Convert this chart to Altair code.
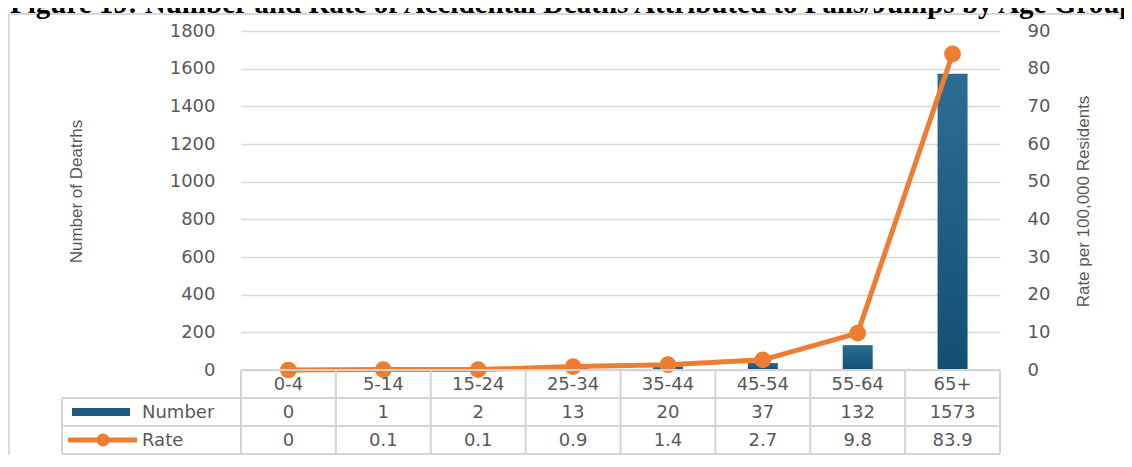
import altair as alt
import pandas as pd

# ---------------- data ----------------
ages = ["0-4", "5-14", "15-24", "25-34", "35-44", "45-54", "55-64", "65+"]
numbers = [0, 1, 2, 13, 20, 37, 132, 1573]
rates = [0, 0.1, 0.1, 0.9, 1.4, 2.7, 9.8, 83.9]
left_ticks = [0, 200, 400, 600, 800, 1000, 1200, 1400, 1600, 1800]
right_ticks = [0, 10, 20, 30, 40, 50, 60, 70, 80, 90]
title_text = "Figure 19: Number and Rate of Accidental Deaths Attributed to Falls/Jumps by Age Group"
left_title = "Number of Deatrhs"
right_title = "Rate per 100,000 Residents"
legend_number = "Number"
legend_rate = "Rate"

df = pd.DataFrame({
    "age": ages,
    "number": numbers,
    "rate": rates,
    "num_label": [str(n) for n in numbers],
    "rate_label": [f"{r:g}" for r in rates],
})
one = pd.DataFrame({"k": [0]})

# ---------------- style ----------------
W, H = 759, 339
ORANGE = "#ed7d31"
GRID = "#d9d9d9"
TABLE = "#d4d4d4"
TEXT = "#595959"
LABEL_FONT = "DejaVu Sans"
TITLE_FONT = "Liberation Sans"

ROW_CAT = (339, 367)
ROW_NUM = (367, 395)
ROW_RATE = (395, 423)
LEG_LEFT = -179

xscale = alt.Scale(domain=ages, paddingInner=0, paddingOuter=0)
X = alt.X("age:N", scale=xscale, axis=None, sort=ages)

blue_grad = alt.Gradient(
    gradient="linear", x1=0, x2=0, y1=0, y2=1,
    stops=[alt.GradientStop(color="#2d6d94", offset=0),
           alt.GradientStop(color="#134f73", offset=1)],
)

bars = alt.Chart(df).mark_bar(size=30, color=blue_grad).encode(
    x=X,
    y=alt.Y(
        "number:Q",
        scale=alt.Scale(domain=[0, 1800], nice=False),
        axis=alt.Axis(
            orient="left", values=left_ticks, title=left_title, format="d",
            grid=True, gridColor=GRID, gridWidth=1.5,
            domain=False, ticks=False, labelPadding=26,
            labelFont=LABEL_FONT, labelFontSize=18, labelColor=TEXT,
            titleFont=TITLE_FONT, titleFontSize=17, titleFontWeight="normal",
            titleColor=TEXT, titleAngle=270, titleX=-165, titleY=160,
            titleAlign="center", titleBaseline="middle",
        ),
    ),
)

line = alt.Chart(df).mark_line(
    color=ORANGE, strokeWidth=5,
    point=alt.OverlayMarkDef(filled=True, size=280, color=ORANGE, opacity=1),
).encode(
    x=X,
    y=alt.Y(
        "rate:Q",
        scale=alt.Scale(domain=[0, 90], nice=False),
        axis=alt.Axis(
            orient="right", values=right_ticks, title=right_title, format="d",
            grid=False, domain=False, ticks=False, labelPadding=27,
            labelFont=LABEL_FONT, labelFontSize=18, labelColor=TEXT,
            titleFont=TITLE_FONT, titleFontSize=17, titleFontWeight="normal",
            titleColor=TEXT, titleAngle=270, titleX=83, titleY=170,
            titleAlign="center", titleBaseline="middle",
        ),
    ),
)


def hrule(y, x1, x2, color=TABLE, w=2):
    return alt.Chart(one).mark_rule(color=color, strokeWidth=w).encode(
        x=alt.value(x1), x2=alt.value(x2), y=alt.value(y))


def vrule(x, y1, y2, color=TABLE, w=2):
    return alt.Chart(one).mark_rule(color=color, strokeWidth=w).encode(
        x=alt.value(x), y=alt.value(y1), y2=alt.value(y2))


table_h = [
    hrule(ROW_CAT[0], 0, W),
    hrule(ROW_NUM[0], LEG_LEFT, W),
    hrule(ROW_RATE[0], LEG_LEFT, W),
    hrule(ROW_RATE[1], LEG_LEFT, W),
]
table_v_cols = alt.Chart(df).mark_rule(color=TABLE, strokeWidth=2).encode(
    x=alt.X("age:N", scale=xscale, axis=None, sort=ages, bandPosition=0),
    y=alt.value(ROW_CAT[0]), y2=alt.value(ROW_RATE[1]),
)
table_v_extra = [vrule(W, ROW_CAT[0], ROW_RATE[1]), vrule(LEG_LEFT, ROW_NUM[0], ROW_RATE[1])]


def row_text(field, row):
    return alt.Chart(df).mark_text(font=LABEL_FONT, fontSize=18, color=TEXT, baseline="middle").encode(
        x=X, y=alt.value((row[0] + row[1]) / 2 + 1), text=f"{field}:N")


cat_text = row_text("age", ROW_CAT)
num_text = row_text("num_label", ROW_NUM)
rate_text = row_text("rate_label", ROW_RATE)

leg_num_sym = alt.Chart(one).mark_rect(color="#1c5a80").encode(
    x=alt.value(-169), x2=alt.value(-111),
    y=alt.value((ROW_NUM[0] + ROW_NUM[1]) / 2 - 4), y2=alt.value((ROW_NUM[0] + ROW_NUM[1]) / 2 + 4))
leg_rate_line = alt.Chart(one).mark_rule(color=ORANGE, strokeWidth=5).encode(
    x=alt.value(-173), x2=alt.value(-104), y=alt.value((ROW_RATE[0] + ROW_RATE[1]) / 2))
leg_rate_pt = alt.Chart(one).mark_point(filled=True, size=170, color=ORANGE, opacity=1).encode(
    x=alt.value(-138), y=alt.value((ROW_RATE[0] + ROW_RATE[1]) / 2))
leg_num_text = alt.Chart(pd.DataFrame({"t": [legend_number]})).mark_text(
    align="left", baseline="middle", font=LABEL_FONT, fontSize=18, color=TEXT).encode(
    x=alt.value(-99), y=alt.value((ROW_NUM[0] + ROW_NUM[1]) / 2 + 1), text="t:N")
leg_rate_text = alt.Chart(pd.DataFrame({"t": [legend_rate]})).mark_text(
    align="left", baseline="middle", font=LABEL_FONT, fontSize=18, color=TEXT).encode(
    x=alt.value(-99), y=alt.value((ROW_RATE[0] + ROW_RATE[1]) / 2 + 1), text="t:N")

frame = [hrule(-17, -232, 900, color=GRID, w=2), vrule(-232, -17, 440, color=GRID, w=2)]

title = alt.Chart(pd.DataFrame({"t": [title_text]})).mark_text(
    align="left", baseline="alphabetic", font="Liberation Serif", fontWeight="bold",
    fontSize=29, color="black").encode(
    x=alt.value(-231), y=alt.value(-18), text="t:N")

chart = alt.layer(
    bars, line,
    *table_h, table_v_cols, *table_v_extra,
    cat_text, num_text, rate_text,
    leg_num_sym, leg_rate_line, leg_rate_pt, leg_num_text, leg_rate_text,
    *frame, title,
).resolve_scale(y="independent").properties(
    width=W, height=H,
    autosize=alt.AutoSizeParams(type="none"),
    padding={"left": 233, "top": 23, "right": 124, "bottom": 85},
    background="white",
).configure_view(stroke=None)

chart.save("out.html", embed_options={"renderer": "svg", "actions": False})
